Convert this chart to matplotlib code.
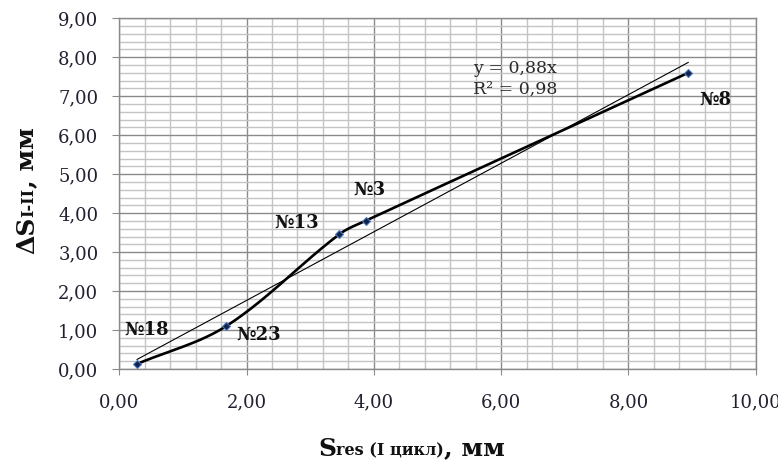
import numpy as np
import matplotlib
matplotlib.use("Agg")
import matplotlib.pyplot as plt
from matplotlib.ticker import MultipleLocator, FuncFormatter

# data
s_res = [0.28, 1.68, 3.46, 3.88, 8.94]
delta_s = [0.13, 1.10, 3.46, 3.81, 7.60]
point_names = ["№18", "№23", "№13", "№3", "№8"]
label_offsets = [(10, 34), (32, -9), (-43, 11), (3, 31), (27, -27)]
slope = 0.88
r2 = 0.98

serif = "DejaVu Serif"
tick_color = "#202030"
major_grid = "#8a8a8a"
minor_grid = "#c4c4c4"

fig = plt.figure(figsize=(7.78, 4.63), dpi=100)
ax = fig.add_axes([0.1533, 0.2030, 0.8180, 0.7575])

ax.set_xlim(0, 10)
ax.set_ylim(0, 9)
ax.xaxis.set_major_locator(MultipleLocator(2))
ax.xaxis.set_minor_locator(MultipleLocator(0.4))
ax.yaxis.set_major_locator(MultipleLocator(1))
ax.yaxis.set_minor_locator(MultipleLocator(0.2))

comma = FuncFormatter(lambda v, p: f"{v:.2f}".replace(".", ","))
ax.xaxis.set_major_formatter(comma)
ax.yaxis.set_major_formatter(comma)

ax.grid(which="minor", color=minor_grid, lw=1.0, zorder=0)
ax.grid(which="major", color=major_grid, lw=1.0, zorder=0)
ax.set_axisbelow(True)
for sp in ax.spines.values():
    sp.set_color(major_grid)
    sp.set_linewidth(1.0)

ax.tick_params(which="minor", length=0)
ax.tick_params(axis="x", which="major", direction="out", length=4.5,
               color=major_grid, pad=13, labelsize=13, labelcolor=tick_color)
ax.tick_params(axis="y", which="major", direction="out", length=5,
               color=major_grid, pad=10, labelsize=13, labelcolor=tick_color)
for lab in ax.get_xticklabels() + ax.get_yticklabels():
    lab.set_fontfamily(serif)

# trend line through origin
xt = np.array([min(s_res), max(s_res)])
ax.plot(xt, slope * xt, color="black", lw=0.8, zorder=3)

# smoothed line like Excel, bezier segments built in display space
fig.canvas.draw()
pts = ax.transData.transform(np.column_stack([s_res, delta_s]))
n = len(pts)
tang = []
for i in range(n):
    a = pts[max(i - 1, 0)]
    b = pts[min(i + 1, n - 1)]
    d = b - a
    tang.append(d / np.hypot(*d))
curve = []
t = np.linspace(0, 1, 40)[:, None]
for i in range(n - 1):
    p1, p2 = pts[i], pts[i + 1]
    L = np.hypot(*(p2 - p1)) / 3
    c1 = p1 + tang[i] * L
    c2 = p2 - tang[i + 1] * L
    seg = (1 - t) ** 3 * p1 + 3 * (1 - t) ** 2 * t * c1 \
        + 3 * (1 - t) * t ** 2 * c2 + t ** 3 * p2
    curve.append(seg)
curve = ax.transData.inverted().transform(np.vstack(curve))
ax.plot(curve[:, 0], curve[:, 1], color="black", lw=1.9, zorder=4)
ax.plot(s_res, delta_s, ls="none", marker="D", ms=4.5, mfc="#14224a",
        mec="#4a78c0", mew=0.8, zorder=5)

for x, y, name, off in zip(s_res, delta_s, point_names, label_offsets):
    ax.annotate(name, (x, y), xytext=off, textcoords="offset pixels",
                ha="center", va="center", fontsize=13, fontweight="bold",
                family=serif, color="#111111", zorder=6)

ax.text(0.5555, 0.882, f"y = {slope:.2f}x".replace(".", ",") + "\n"
        + f"R² = {r2:.2f}".replace(".", ","),
        transform=ax.transAxes, ha="left", va="top", fontsize=12.5,
        family=serif, color="#2a2a2a", linespacing=1.3, zorder=6)

# x axis label: big S, small "res (I цикл)", big ", мм"
big = dict(fontsize=18, fontweight="bold", family=serif, color="#111111")
small = dict(fontsize=11.5, fontweight="bold", family=serif, color="#111111")
t1 = fig.text(318 / 778, 2 / 463, "S", ha="left", va="bottom", **big)
t2 = ax.annotate("res (I цикл)", xy=(1, 0.07), xycoords=t1, ha="left",
                 va="bottom", annotation_clip=False, **small)
ax.annotate(", мм", xy=(1, -0.07), xycoords=t2, ha="left", va="bottom",
            annotation_clip=False, **big)

# y axis label, rotated
u1 = fig.text(39 / 778, 1 - 254 / 463, "ΔS", rotation=90, ha="right",
              va="bottom", **big)
u2 = ax.annotate("I-II", xy=(0.93, 1), xycoords=u1, rotation=90, ha="right",
                 va="bottom", annotation_clip=False, **small)
ax.annotate(", мм", xy=(1.07, 1), xycoords=u2, rotation=90, ha="right",
            va="bottom", annotation_clip=False, **big)

fig.savefig("out.png", dpi=100)
